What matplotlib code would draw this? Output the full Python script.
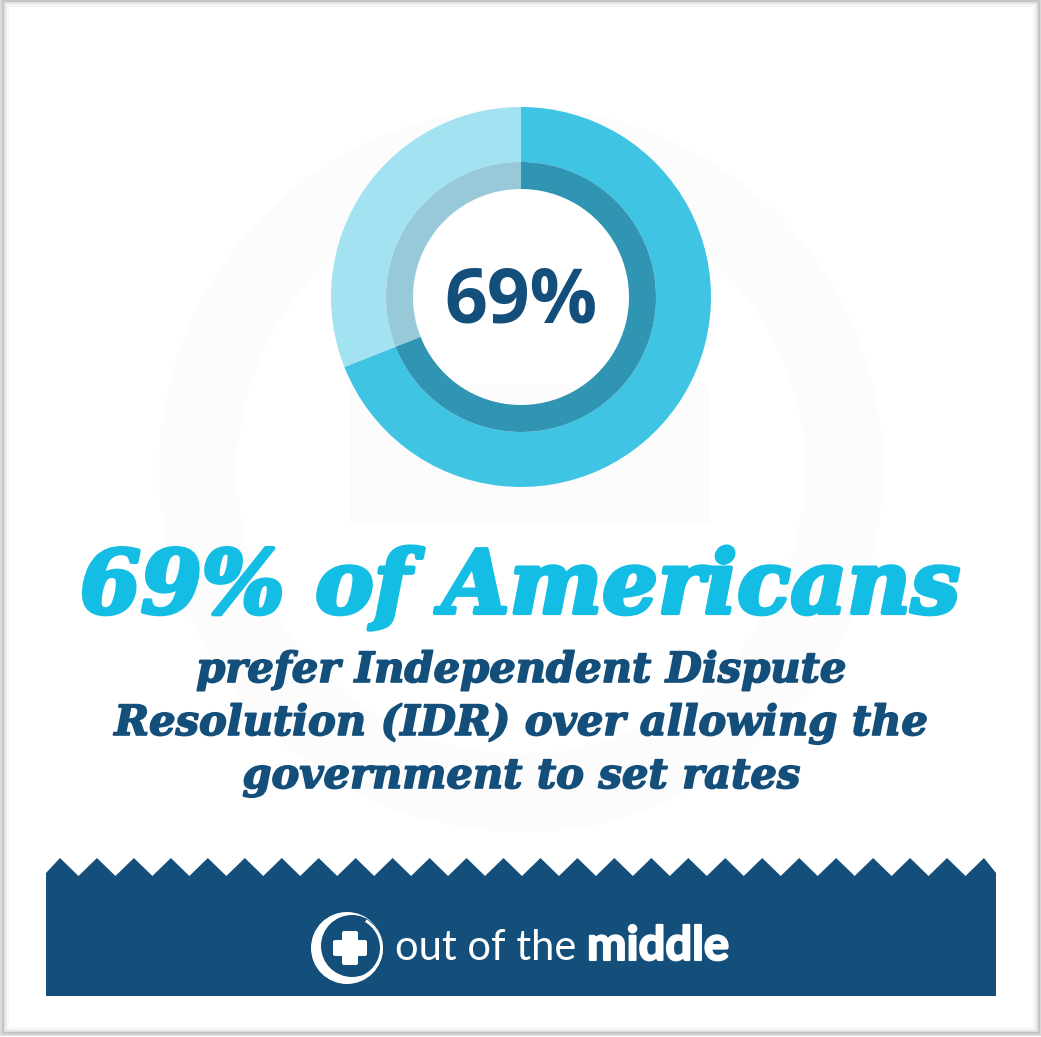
import matplotlib
matplotlib.use("Agg")
import matplotlib.pyplot as plt
import matplotlib.patheffects as pe
from matplotlib.patches import Circle, FancyBboxPatch, Polygon, Rectangle, Wedge
import numpy as np

W, H = 1041, 1037

shares = [69, 31]
center_label = "69%"
headline = "69% of Americans"
sub_lines = ["prefer Independent Dispute",
             "Resolution (IDR) over allowing the",
             "government to set rates"]
brand_light = "out of the"
brand_bold = "middle"

NAVY = "#134f7a"
ring_outer = ["#40c4e4", "#a2e2f1"]
ring_inner = ["#3094b3", "#98c9d9"]

fig = plt.figure(figsize=(W / 100, H / 100), dpi=100, facecolor="white")
ax = fig.add_axes([0, 0, 1, 1])
ax.set_xlim(0, W)
ax.set_ylim(H, 0)
ax.axis("off")

# faint watermark behind everything
wm = "#fcfcfc"
ax.add_patch(Wedge((521, 470), 362, 0, 360, width=78, fc=wm, ec="none", zorder=0))
ax.add_patch(Rectangle((350, 385), 360, 140, fc=wm, ec="none", zorder=0))

# soft frame around the card
for inset, shade in [(1, "#d8d8d8"), (3, "#c4c4c4"), (5, "#e4e4e4"), (7, "#f6f6f6")]:
    ax.add_patch(Rectangle((inset, inset - 2), W - 2 * inset, H - 2 * inset,
                           fc="none", ec=shade, lw=2, zorder=6))

# donut rings, in their own axes so the pie keeps its own scale
cx, cy, r = 521, 297, 190
dax = fig.add_axes([(cx - r) / W, 1 - (cy + r) / H, 2 * r / W, 2 * r / H])
dax.pie(shares, radius=1.0, startangle=90, counterclock=False, colors=ring_outer,
        wedgeprops=dict(width=1 - 135 / 190, linewidth=0))
dax.pie(shares, radius=135 / 190, startangle=90, counterclock=False, colors=ring_inner,
        wedgeprops=dict(width=27 / 190, linewidth=0))
dax.set_xlim(-1, 1)
dax.set_ylim(-1, 1)
dax.text(0, 0.015, center_label, ha="center", va="center_baseline", fontsize=54,
         family="Open Sans", weight="bold", color=NAVY)

slab = dict(family="DejaVu Serif", style="italic", weight="bold", ha="center", va="baseline")
t = ax.text(520, 613, headline, fontsize=63, color="#14bde3", **slab)
t.set_path_effects([pe.withStroke(linewidth=3, foreground="#14bde3")])
for line, y in zip(sub_lines, [682, 735, 788]):
    t = ax.text(521, y, line, fontsize=30, color=NAVY, **slab)
    t.set_path_effects([pe.withStroke(linewidth=1.2, foreground=NAVY)])

# banner with the zigzag top edge
peaks = np.linspace(60, 984, 26)
valleys = (peaks[:-1] + peaks[1:]) / 2
edge = [(46, 996), (46, 873)]
for i, p in enumerate(peaks):
    edge.append((p, 858))
    if i < len(valleys):
        edge.append((valleys[i], 876))
edge += [(996, 873), (996, 996)]
ax.add_patch(Polygon(edge, closed=True, fc=NAVY, ec="none", zorder=2))

# logo: crescent, thin arc and cross
ax.add_patch(Circle((347, 948), 36, fc="white", ec="none", zorder=3))
ax.add_patch(Circle((352, 946), 31, fc=NAVY, ec="none", zorder=3))
ax.add_patch(Wedge((350, 948), 33, 300, 60, width=3, fc="white", ec="none", zorder=3))
ax.add_patch(FancyBboxPatch((335, 942), 30, 12, boxstyle="round,pad=2", fc="white", ec="none", zorder=4))
ax.add_patch(FancyBboxPatch((344, 933), 12, 30, boxstyle="round,pad=2", fc="white", ec="none", zorder=4))

ax.text(395, 960, brand_light, fontsize=30, family="Lato",
        color="white", ha="left", va="baseline", zorder=4)
t = ax.text(587, 960, brand_bold, fontsize=34, family="Lato", weight="bold",
            color="white", ha="left", va="baseline", zorder=4)
t.set_path_effects([pe.withStroke(linewidth=1.5, foreground="white")])

fig.savefig("out.png", dpi=100)
